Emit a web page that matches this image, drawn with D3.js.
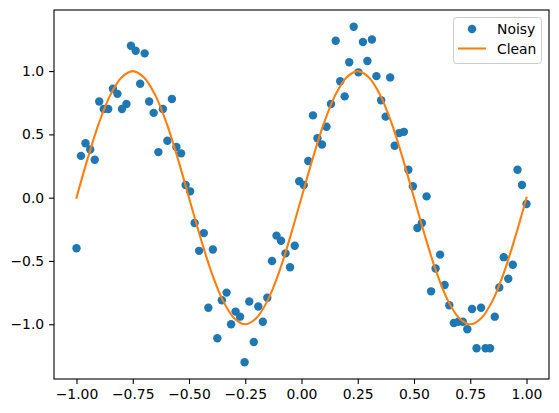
<!DOCTYPE html>
<html>
<head>
<meta charset="utf-8">
<script src="https://cdn.jsdelivr.net/npm/d3@7"></script>
<style>
  body { margin: 0; background: #fff; }
  svg { display: block; font-family: "DejaVu Sans", sans-serif; }
</style>
</head>
<body>
<div id="chart"></div>
<script>
// x positions of the noisy samples (evenly spaced from -1 to 1)
var noisyX = [
  -1.000, -0.980, -0.960, -0.939, -0.919, -0.899, -0.879, -0.859, -0.838, -0.818,
  -0.798, -0.778, -0.758, -0.737, -0.717, -0.697, -0.677, -0.657, -0.636, -0.616,
  -0.596, -0.576, -0.556, -0.535, -0.515, -0.495, -0.475, -0.455, -0.434, -0.414,
  -0.394, -0.374, -0.354, -0.333, -0.313, -0.293, -0.273, -0.253, -0.232, -0.212,
  -0.192, -0.172, -0.152, -0.131, -0.111, -0.091, -0.071, -0.051, -0.030, -0.010,
   0.010,  0.030,  0.051,  0.071,  0.091,  0.111,  0.131,  0.152,  0.172,  0.192,
   0.212,  0.232,  0.253,  0.273,  0.293,  0.313,  0.333,  0.354,  0.374,  0.394,
   0.414,  0.434,  0.455,  0.475,  0.495,  0.515,  0.535,  0.556,  0.576,  0.596,
   0.616,  0.636,  0.657,  0.677,  0.697,  0.717,  0.737,  0.758,  0.778,  0.798,
   0.818,  0.838,  0.859,  0.879,  0.899,  0.919,  0.939,  0.960,  0.980,  1.000
];

var noisyY = [
  -0.40,  0.33,  0.43,  0.38,  0.30,  0.76,  0.70,  0.70,  0.86,  0.82,
   0.70,  0.74,  1.20,  1.16,  0.90,  1.14,  0.76,  0.67,  0.36,  0.70,
   0.45,  0.78,  0.40,  0.35,  0.10,  0.05, -0.20, -0.42, -0.28, -0.87,
  -0.41, -1.11, -0.81, -0.75, -1.00, -0.90, -0.94, -1.30, -0.82, -1.14,
  -0.86, -0.98, -0.79, -0.50, -0.30, -0.34, -0.44, -0.55, -0.38,  0.13,
   0.10,  0.29,  0.65,  0.47,  0.42,  0.56,  0.74,  1.24,  0.92,  0.80,
   1.07,  1.35,  0.99,  1.23,  1.08,  1.25,  0.96,  0.77,  0.64,  0.95,
   0.41,  0.51,  0.52,  0.22,  0.09, -0.24, -0.20,  0.01, -0.74, -0.56,
  -0.45, -0.69, -0.85, -0.99, -0.98, -0.98, -1.04, -0.88, -1.19, -0.87,
  -1.19, -1.19, -0.94, -0.71, -0.47, -0.64, -0.53,  0.22,  0.10, -0.05
];

// clean curve, read every 0.05
var cleanX = [
  -1.00, -0.95, -0.90, -0.85, -0.80, -0.75, -0.70, -0.65, -0.60, -0.55,
  -0.50, -0.45, -0.40, -0.35, -0.30, -0.25, -0.20, -0.15, -0.10, -0.05,
   0.00,  0.05,  0.10,  0.15,  0.20,  0.25,  0.30,  0.35,  0.40,  0.45,
   0.50,  0.55,  0.60,  0.65,  0.70,  0.75,  0.80,  0.85,  0.90,  0.95, 1.00
];
var cleanY = [
   0.00,  0.31,  0.59,  0.81,  0.95,  1.00,  0.95,  0.81,  0.59,  0.31,
   0.00, -0.31, -0.59, -0.81, -0.95, -1.00, -0.95, -0.81, -0.59, -0.31,
   0.00,  0.31,  0.59,  0.81,  0.95,  1.00,  0.95,  0.81,  0.59,  0.31,
   0.00, -0.31, -0.59, -0.81, -0.95, -1.00, -0.95, -0.81, -0.59, -0.31, 0.00
];

var xTicks = [-1.0, -0.75, -0.5, -0.25, 0, 0.25, 0.5, 0.75, 1.0];
var yTicks = [-1.0, -0.5, 0, 0.5, 1.0];

var width = 559, height = 413;
var plotLeft = 54, plotTop = 10, plotRight = 549, plotBottom = 379;

var blue = '#1f77b4', orange = '#ff7f0e';

var svg = d3.select('#chart').append('svg')
  .attr('width', width)
  .attr('height', height);

var x = d3.scaleLinear().domain([-1.1, 1.1]).range([plotLeft, plotRight]);
var y = d3.scaleLinear().domain([-1.4325, 1.4825]).range([plotBottom, plotTop]);

var minus = function (s) { return s.replace('-', '\u2212'); };

// axes
var xAxis = d3.axisBottom(x)
  .tickValues(xTicks)
  .tickSizeOuter(0)
  .tickSize(4.9)
  .tickPadding(4.9)
  .tickFormat(function (d) { return minus(d3.format('.2f')(d)); });

var yAxis = d3.axisLeft(y)
  .tickValues(yTicks)
  .tickSizeOuter(0)
  .tickSize(4.9)
  .tickPadding(4.9)
  .tickFormat(function (d) { return minus(d3.format('.1f')(d)); });

var gx = svg.append('g')
  .attr('transform', 'translate(0,' + plotBottom + ')')
  .call(xAxis);
var gy = svg.append('g')
  .attr('transform', 'translate(' + plotLeft + ',0)')
  .call(yAxis);

[gx, gy].forEach(function (g) {
  g.select('.domain').remove();
  g.selectAll('line').attr('stroke', '#000').attr('stroke-width', 1.1);
  g.selectAll('text')
    .attr('fill', '#000')
    .style('font-family', '"DejaVu Sans", sans-serif')
    .style('font-size', '13.9px');
});

// noisy points
svg.append('g')
  .selectAll('circle')
  .data(noisyX)
  .enter()
  .append('circle')
  .attr('cx', function (d) { return x(d); })
  .attr('cy', function (d, i) { return y(noisyY[i]); })
  .attr('r', 4.2)
  .attr('fill', blue);

// clean line
var line = d3.line()
  .x(function (d) { return x(d); })
  .y(function (d, i) { return y(cleanY[i]); })
  .curve(d3.curveCatmullRom.alpha(0.5));

svg.append('path')
  .datum(cleanX)
  .attr('d', line)
  .attr('fill', 'none')
  .attr('stroke', orange)
  .attr('stroke-width', 2.1)
  .attr('stroke-linecap', 'square');

// frame
svg.append('rect')
  .attr('x', plotLeft)
  .attr('y', plotTop)
  .attr('width', plotRight - plotLeft)
  .attr('height', plotBottom - plotTop)
  .attr('fill', 'none')
  .attr('stroke', '#000')
  .attr('stroke-width', 1.1);

// legend
var legend = svg.append('g');
legend.append('rect')
  .attr('x', 453.5)
  .attr('y', 17.5)
  .attr('width', 88)
  .attr('height', 46)
  .attr('rx', 3)
  .attr('fill', '#fff')
  .attr('fill-opacity', 0.8)
  .attr('stroke', '#cccccc')
  .attr('stroke-width', 1);

legend.append('circle')
  .attr('cx', 472)
  .attr('cy', 29)
  .attr('r', 4.2)
  .attr('fill', blue);

legend.append('line')
  .attr('x1', 458)
  .attr('x2', 486)
  .attr('y1', 48.5)
  .attr('y2', 48.5)
  .attr('stroke', orange)
  .attr('stroke-width', 2.1);

legend.selectAll('text.lbl')
  .data(['Noisy', 'Clean'])
  .enter()
  .append('text')
  .attr('class', 'lbl')
  .attr('x', 497)
  .attr('y', function (d, i) { return 29 + i * 19.5; })
  .attr('dy', '0.36em')
  .style('font-size', '13.9px')
  .attr('fill', '#000')
  .text(function (d) { return d; });
</script>
</body>
</html>
